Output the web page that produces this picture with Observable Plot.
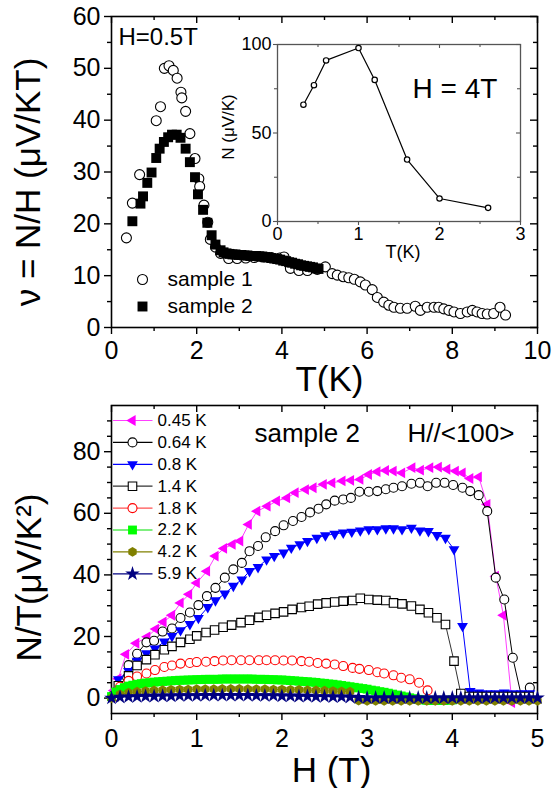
<!DOCTYPE html>
<html><head><meta charset="utf-8">
<script src="https://cdn.jsdelivr.net/npm/d3@7"></script>
<script src="https://cdn.jsdelivr.net/npm/@observablehq/plot@0.6"></script>
<style>
body{margin:0;background:#fff;}
#wrap{position:relative;width:554px;height:788px;overflow:hidden;background:#fff;}
</style></head><body><div id="wrap"></div>
<script>
// ---------------- DATA ----------------
// Top panel: nu = N/H (µV/KT) vs T(K), H = 0.5 T
const sample1 = [[0.35,17.3],[0.49,24.0],[0.66,29.5],[1.05,39.9],[1.15,42.6],[1.24,50.0],[1.35,50.5],[1.45,49.6],[1.54,48.1],[1.63,45.4],[1.65,44.3],[1.74,41.7],[1.84,37.4],[1.96,32.6],[2.05,28.7],[2.07,27.2],[2.17,23.6],[2.26,20.3],[2.32,17.0],[2.44,15.5],[2.56,14.3],[2.75,13.3],[2.95,13.3],[3.15,13.4],[3.35,13.5],[3.55,13.6],[3.75,13.5],[3.95,13.4],[4.05,13.6],[4.2,11.4],[4.4,11.0],[4.6,11.0],[4.83,11.2],[5.02,11.7],[5.18,10.4],[5.3,10.1],[5.44,9.8],[5.57,9.6],[5.7,9.3],[5.84,8.8],[5.96,8.2],[6.12,7.3],[6.24,5.8],[6.39,4.9],[6.51,4.3],[6.63,3.9],[6.78,3.7],[6.94,3.7],[7.13,4.1],[7.25,3.3],[7.41,3.9],[7.57,3.9],[7.68,3.9],[7.8,3.6],[7.92,3.3],[8.04,3.0],[8.19,2.7],[8.35,3.0],[8.47,3.3],[8.58,3.0],[8.7,2.7],[8.82,2.6],[8.97,2.7],[9.12,3.9],[9.25,2.4]];
const sample2 = [[0.49,20.5],[0.68,23.9],[0.74,25.3],[0.84,27.9],[0.94,29.9],[1.05,32.7],[1.13,34.5],[1.23,35.8],[1.33,36.7],[1.42,37.2],[1.53,37.2],[1.62,36.6],[1.74,34.5],[1.84,31.9],[1.96,29.0],[2.03,25.7],[2.15,22.7],[2.25,20.2],[2.35,17.8],[2.44,16.0],[2.56,14.9],[2.63,14.5],[2.7,14.3],[2.77,14.2],[2.84,14.1],[2.91,14.1],[2.98,14.0],[3.05,14.0],[3.12,13.9],[3.19,13.9],[3.26,13.8],[3.33,13.8],[3.4,13.8],[3.47,13.7],[3.54,13.7],[3.61,13.6],[3.68,13.5],[3.75,13.4],[3.82,13.3],[3.89,13.2],[3.96,13.1],[4.03,12.9],[4.1,12.8],[4.17,12.6],[4.24,12.5],[4.31,12.3],[4.38,12.2],[4.45,12.0],[4.52,11.9],[4.59,11.8],[4.66,11.7],[4.73,11.6],[4.8,11.4],[4.86,11.3]];
// Inset: N (µV/K) vs T(K), H = 4 T
const insetT = [0.32, 0.45, 0.6, 1.0, 1.2, 1.6, 2.0, 2.6];
const insetN = [66, 77, 91, 98, 80, 35, 13, 7.7];

// Bottom panel: N/T (µV/K^2) vs H (T), sample 2, H//<100>
const s045 = [[0.03,2.5],[0.08,6.3],[0.17,14.2],[0.29,17.8],[0.42,19.9],[0.52,22.4],[0.61,24.7],[0.71,26.9],[0.81,30.9],[0.91,33.7],[1.0,37.4],[1.12,41.2],[1.22,46.1],[1.32,48.6],[1.42,49.9],[1.51,51.0],[1.61,56.4],[1.71,60.7],[1.83,62.3],[1.94,64.0],[2.06,65.0],[2.16,66.7],[2.28,67.7],[2.37,68.3],[2.49,69.4],[2.59,69.9],[2.71,70.5],[2.81,70.7],[2.92,71.0],[3.02,72.6],[3.12,73.5],[3.22,73.9],[3.31,73.7],[3.41,73.1],[3.53,74.8],[3.63,74.0],[3.74,74.8],[3.84,75.0],[3.94,74.3],[4.04,73.7],[4.12,73.1],[4.21,71.3],[4.31,71.8],[4.41,62.9],[4.51,39.6],[4.6,26.9],[4.7,-1.5],[4.8,0.5],[4.9,0.5]];
const s064 = [[0.03,1.0],[0.1,5.0],[0.2,10.7],[0.3,14.4],[0.41,18.1],[0.5,18.6],[0.6,21.6],[0.71,22.6],[0.81,26.0],[0.92,27.8],[1.02,30.2],[1.12,33.1],[1.22,35.8],[1.33,39.1],[1.43,41.8],[1.53,43.9],[1.62,47.7],[1.72,49.4],[1.81,52.2],[1.92,54.2],[2.02,56.1],[2.13,57.5],[2.23,58.8],[2.33,60.3],[2.43,61.5],[2.52,62.9],[2.62,64.1],[2.72,64.5],[2.81,65.0],[2.91,67.0],[3.02,67.0],[3.12,67.2],[3.22,67.8],[3.31,68.3],[3.41,68.8],[3.52,69.6],[3.62,69.9],[3.71,68.8],[3.81,69.9],[3.91,69.9],[4.01,69.2],[4.12,68.3],[4.21,67.2],[4.31,65.9],[4.41,60.7],[4.51,39.1],[4.61,32.0],[4.71,13.1],[4.81,0.8],[4.91,3.4]];
const s08 = [[0.03,1.0],[0.08,6.1],[0.2,8.8],[0.3,12.1],[0.41,14.5],[0.51,16.1],[0.62,18.3],[0.71,20.1],[0.81,22.0],[0.92,24.0],[1.02,26.0],[1.13,29.5],[1.22,31.7],[1.33,33.9],[1.43,36.4],[1.53,38.5],[1.62,41.2],[1.72,42.5],[1.82,45.0],[1.91,46.1],[2.02,47.2],[2.11,48.8],[2.21,49.9],[2.3,51.0],[2.41,52.0],[2.51,52.8],[2.62,53.3],[2.72,53.7],[2.82,54.0],[2.92,54.4],[3.02,54.8],[3.12,54.8],[3.22,55.1],[3.31,55.1],[3.41,54.8],[3.52,55.3],[3.62,54.4],[3.72,54.2],[3.82,52.9],[3.92,52.0],[4.02,48.3],[4.12,23.4],[4.21,2.3],[4.31,1.8],[4.41,1.5],[4.51,1.5],[4.61,1.8],[4.71,1.5],[4.81,1.5],[4.91,1.5]];
const s14 = [[0.03,0.5],[0.08,4.0],[0.2,7.2],[0.3,10.6],[0.41,12.5],[0.51,14.1],[0.62,15.7],[0.71,16.8],[0.81,18.1],[0.92,19.1],[1.0,20.2],[1.11,21.3],[1.21,22.1],[1.31,23.0],[1.41,23.7],[1.52,24.5],[1.62,25.3],[1.73,26.2],[1.82,26.9],[1.92,27.5],[2.02,28.0],[2.12,28.8],[2.23,29.4],[2.32,29.8],[2.42,30.5],[2.52,30.9],[2.62,31.2],[2.72,31.5],[2.83,31.7],[2.92,32.4],[3.02,32.0],[3.12,31.8],[3.22,31.7],[3.31,30.9],[3.41,30.6],[3.52,29.9],[3.62,28.8],[3.72,27.7],[3.82,26.1],[3.92,23.9],[4.02,12.0],[4.1,1.5],[4.2,0.5],[4.3,0.5],[4.4,0.5],[4.5,0.5],[4.6,0.5],[4.7,0.5],[4.8,0.5],[4.9,0.5]];
const s18 = [[0.03,0.5],[0.1,3.7],[0.2,5.6],[0.3,7.0],[0.41,8.0],[0.51,9.1],[0.62,10.1],[0.71,10.6],[0.81,11.2],[0.92,11.4],[1.0,11.7],[1.11,11.8],[1.21,12.0],[1.31,12.2],[1.41,12.3],[1.52,12.3],[1.62,12.3],[1.73,12.3],[1.82,12.3],[1.92,12.3],[2.02,12.2],[2.12,12.2],[2.23,12.0],[2.32,11.8],[2.42,11.4],[2.52,11.2],[2.62,10.9],[2.72,10.4],[2.83,9.8],[2.91,9.5],[3.02,9.1],[3.12,8.4],[3.2,8.0],[3.31,7.4],[3.4,6.6],[3.5,6.1],[3.61,5.0],[3.71,2.5]];
const s22 = [[0.0,0.5],[0.05,2.0],[0.1,2.8],[0.15,3.4],[0.2,3.9],[0.25,4.2],[0.3,4.5],[0.35,4.7],[0.4,4.9],[0.45,5.0],[0.5,5.2],[0.55,5.3],[0.6,5.4],[0.65,5.5],[0.7,5.6],[0.75,5.7],[0.8,5.8],[0.85,5.8],[0.9,5.9],[0.95,5.9],[1.0,6.0],[1.05,6.0],[1.1,6.1],[1.15,6.1],[1.2,6.1],[1.25,6.1],[1.3,6.2],[1.35,6.2],[1.4,6.2],[1.45,6.2],[1.5,6.2],[1.55,6.2],[1.6,6.2],[1.65,6.2],[1.7,6.1],[1.75,6.1],[1.8,6.1],[1.85,6.0],[1.9,6.0],[1.95,5.9],[2.0,5.9],[2.05,5.8],[2.1,5.7],[2.15,5.6],[2.2,5.5],[2.25,5.4],[2.3,5.3],[2.35,5.2],[2.4,5.1],[2.45,4.9],[2.5,4.8],[2.55,4.6],[2.6,4.5],[2.65,4.3],[2.7,4.1],[2.75,3.9],[2.8,3.7],[2.85,3.5],[2.9,3.3],[2.95,3.1],[3.0,2.9],[3.05,2.6],[3.1,2.4],[3.15,2.1],[3.2,1.9],[3.25,1.6],[3.3,1.3],[3.35,1.0],[3.4,0.7],[3.45,0.4],[3.5,0.1],[3.55,-0.2],[3.6,-0.4],[3.65,-0.6],[3.7,-0.7],[3.75,-0.8],[3.8,-0.8],[3.85,-0.8],[3.9,-0.8],[3.95,-0.7],[4.0,-0.6]];
const s42 = [[0,0],[0.1,1.2],[0.2,1.8],[0.3,2.1],[0.4,2.3],[0.5,2.5],[0.6,2.6],[0.7,2.7],[0.8,2.8],[0.9,2.8],[1.0,2.9],[1.1,2.9],[1.2,2.9],[1.3,3.0],[1.4,3.0],[1.5,3.0],[1.6,2.9],[1.7,2.9],[1.8,2.9],[1.9,2.8],[2.0,2.8],[2.1,2.7],[2.2,2.7],[2.3,2.6],[2.4,2.5],[2.5,2.4],[2.6,2.3],[2.7,2.2],[2.8,2.1],[2.9,-0.8],[3.0,-0.9],[3.1,-0.9],[3.2,-0.9],[3.3,-0.9],[3.4,-0.9],[3.5,-0.9],[3.6,-0.9],[3.7,-0.9],[3.8,-0.9],[3.9,-0.9],[4.0,-0.9],[4.1,-0.9],[4.2,-0.9],[4.3,-0.9],[4.4,-0.9],[4.5,-0.9],[4.6,-0.9],[4.7,-0.9],[4.8,-0.9],[4.9,-0.9],[5.0,-0.9]];
const s59 = [[0,0],[0.1,0.3],[0.2,0.4],[0.3,0.5],[0.4,0.6],[0.5,0.6],[0.6,0.7],[0.7,0.7],[0.8,0.8],[0.9,0.8],[1.0,0.8],[1.1,0.9],[1.2,0.9],[1.3,0.9],[1.4,0.9],[1.5,0.9],[1.6,0.9],[1.7,0.8],[1.8,0.8],[1.9,0.8],[2.0,0.7],[2.1,0.7],[2.2,0.6],[2.3,0.6],[2.4,0.5],[2.5,0.5],[2.6,0.4],[2.7,0.4],[2.8,0.3],[2.9,0.2],[3.0,0.1],[3.1,0.1],[3.2,0.1],[3.3,0.1],[3.4,0.1],[3.5,0.1],[3.6,0.1],[3.7,0.1],[3.8,0.1],[3.9,0.1],[4.0,0.1],[4.1,0.1],[4.2,0.1],[4.3,0.1],[4.4,0.1],[4.5,0.1],[4.6,0.1],[4.7,0.1],[4.8,0.1],[4.9,0.1],[5.0,0.1]];
const seriesLabels = ["0.45 K","0.64 K","0.8 K","1.4 K","1.8 K","2.2 K","4.2 K","5.9 K"];

// Tick values
const topXMajor = [0,2,4,6,8,10], topXMinor = [1,3,5,7,9];
const topYMajor = [0,10,20,30,40,50,60], topYMinor = [5,15,25,35,45,55];
const insXMajor = [0,1,2,3], insXMinor = [0.5,1.5,2.5];
const insYMajor = [0,50,100], insYMinor = [25,75];
const botXMajor = [0,1,2,3,4,5], botXMinor = [0.5,1.5,2.5,3.5,4.5];
const botYMajor = [0,20,40,60,80], botYMinor = [5,10,15,25,30,35,45,50,55,65,70,75,85,90];

// ---------------- STYLE ----------------
const FONT = '"Liberation Sans", Arial, Helvetica, sans-serif';
const triLeft = {draw(c, size){ const R = Math.sqrt(size/Math.PI)*1.3; c.moveTo(-R,0); c.lineTo(R/2,-R*0.866); c.lineTo(R/2,R*0.866); c.closePath(); }};
const triDown = {draw(c, size){ const R = Math.sqrt(size/Math.PI)*1.3; c.moveTo(0,R); c.lineTo(-R*0.866,-R/2); c.lineTo(R*0.866,-R/2); c.closePath(); }};
const legLine = {draw(c){ c.moveTo(-19.5,0); c.lineTo(20,0); }};
const pairs = a => a.map(([x,y]) => ({x, y}));

const styles = [
  {data: s045, line:"#ff40ff", symbol: triLeft, r:4.8, fill:"#ff00ff", stroke:"none"},
  {data: s064, line:"#000000", symbol:"circle", r:4.5, fill:"white", stroke:"#000"},
  {data: s08,  line:"#0000ff", symbol: triDown, r:4.8, fill:"#0000ff", stroke:"none"},
  {data: s14,  line:"#333333", symbol:"square", r:4.8, fill:"white", stroke:"#000"},
  {data: s18,  line:"#ff5050", symbol:"circle", r:4.5, fill:"white", stroke:"#ff0000"},
  {data: s22,  line:"#00e000", symbol:"square", r:5, fill:"#00ff00", stroke:"none"},
  {data: s42,  line:"#808000", symbol:"hexagon", r:4.2, fill:"#808000", stroke:"none"},
  {data: s59,  line:"#000080", symbol:"star", r:4.6, fill:"#000080", stroke:"none"}
];

function frameTicks(o) {
  const {xMaj, xMin, yMaj, yMin, FW, FH, maj, min, sw, stroke, xPad, yPad} = o;
  return [
    Plot.axisX({ticks: xMaj, tickSize: maj, tickPadding: xPad, strokeWidth: sw, stroke, label: null, tickFormat: d => String(d)}),
    Plot.axisX({ticks: xMin, tickSize: min, strokeWidth: sw, stroke, label: null, tickFormat: () => ""}),
    Plot.axisY({ticks: yMaj, tickSize: maj, tickPadding: yPad, strokeWidth: sw, stroke, label: null, tickFormat: d => String(d)}),
    Plot.axisY({ticks: yMin, tickSize: min, strokeWidth: sw, stroke, label: null, tickFormat: () => ""}),
    Plot.tickX(xMaj, {x: d => d, insetBottom: FH - maj, stroke, strokeWidth: sw}),
    Plot.tickX(xMin, {x: d => d, insetBottom: FH - min, stroke, strokeWidth: sw}),
    Plot.tickY(yMaj, {y: d => d, insetLeft: FW - maj, stroke, strokeWidth: sw}),
    Plot.tickY(yMin, {y: d => d, insetLeft: FW - min, stroke, strokeWidth: sw})
  ];
}
const wrap = document.getElementById("wrap");
const baseStyle = (left, top, fs) => ({fontFamily: FONT, fontSize: fs, color: "black", background: "transparent", position: "absolute", left, top, overflow: "visible"});

// ---------------- TOP PANEL ----------------
{
  const W = 554, H = 400, mL = 111, mR = 17, mT = 16, mB = 73;
  const top = Plot.plot({
    width: W, height: H, marginLeft: mL, marginRight: mR, marginTop: mT, marginBottom: mB,
    x: {domain: [0, 10], label: null}, y: {domain: [0, 60], label: null},
    style: baseStyle("0px", "0px", "25px"),
    marks: [
      ...frameTicks({xMaj: topXMajor, xMin: topXMinor, yMaj: topYMajor, yMin: topYMinor, FW: W-mL-mR, FH: H-mT-mB, maj: 7, min: 4, sw: 1.4, stroke: "black", xPad: 7, yPad: 4}),
      Plot.frame({stroke: "black", strokeWidth: 1.6}),
      Plot.dot(pairs(sample1), {x: "x", y: "y", r: 5, stroke: "black", fill: "white", strokeWidth: 1.1}),
      Plot.dot(pairs(sample2), {x: "x", y: "y", symbol: "square", r: 5.6, fill: "black"}),
      Plot.text(["H=0.5T"], {frameAnchor: "top-left", dx: 7, dy: 11, textAnchor: "start", lineAnchor: "top", fontSize: 24}),
      Plot.dot([0], {frameAnchor: "bottom-left", dx: 31, dy: -48, r: 5, stroke: "black", fill: "white", strokeWidth: 1.1}),
      Plot.dot([0], {frameAnchor: "bottom-left", dx: 31, dy: -21, symbol: "square", r: 5.6, fill: "black"}),
      Plot.text(["sample 1"], {frameAnchor: "bottom-left", dx: 56, dy: -48, textAnchor: "start", lineAnchor: "middle", fontSize: 21}),
      Plot.text(["sample 2"], {frameAnchor: "bottom-left", dx: 56, dy: -21, textAnchor: "start", lineAnchor: "middle", fontSize: 21}),
      Plot.text(["T(K)"], {frameAnchor: "bottom", dx: 5, dy: 39, lineAnchor: "top", fontSize: 35}),
      Plot.text(["ν = N/H (μV/KT)"], {frameAnchor: "left", dx: -83, dy: 10, rotate: -90, textAnchor: "middle", lineAnchor: "middle", fontSize: 35})
    ]
  });
  wrap.appendChild(top);
}

// ---------------- INSET ----------------
{
  const W = 340, H = 250, mL = 77, mR = 20, mT = 24, mB = 49;
  const inset = Plot.plot({
    width: W, height: H, marginLeft: mL, marginRight: mR, marginTop: mT, marginBottom: mB,
    x: {domain: [0, 3], label: null}, y: {domain: [0, 100], label: null},
    style: baseStyle("200px", "20px", "18px"),
    marks: [
      ...frameTicks({xMaj: insXMajor, xMin: insXMinor, yMaj: insYMajor, yMin: insYMinor, FW: W-mL-mR, FH: H-mT-mB, maj: 4, min: 3, sw: 1.1, stroke: "#555", xPad: 2, yPad: 2}),
      Plot.frame({stroke: "#555", strokeWidth: 1.3}),
      Plot.line(insetT.map((t, i) => ({x: t, y: insetN[i]})), {x: "x", y: "y", stroke: "black", strokeWidth: 1.2}),
      Plot.dot(insetT.map((t, i) => ({x: t, y: insetN[i]})), {x: "x", y: "y", r: 2.7, stroke: "black", fill: "white", strokeWidth: 1.2}),
      Plot.text(["H = 4T"], {frameAnchor: "top-left", dx: 135, dy: 34, textAnchor: "start", lineAnchor: "top", fontSize: 28}),
      Plot.text(["T(K)"], {frameAnchor: "bottom", dx: 4, dy: 24, lineAnchor: "top", fontSize: 18}),
      Plot.text(["N (μV/K)"], {frameAnchor: "left", dx: -49, dy: -6, rotate: -90, textAnchor: "middle", lineAnchor: "middle", fontSize: 17})
    ]
  });
  wrap.appendChild(inset);
}

// ---------------- BOTTOM PANEL ----------------
{
  const W = 554, H = 388, mL = 111, mR = 17, mT = 5, mB = 75;
  const marks = [];
  styles.forEach(s => {
    const d = pairs(s.data);
    marks.push(Plot.line(d, {x: "x", y: "y", stroke: s.line, strokeWidth: 1}));
    marks.push(Plot.dot(d, {x: "x", y: "y", symbol: s.symbol, r: s.r, fill: s.fill, stroke: s.stroke, strokeWidth: 1.1}));
  });
  const legend = [];
  styles.forEach((s, i) => {
    const dy = 15 + 21.9 * i;
    legend.push(Plot.dot([0], {frameAnchor: "top-left", dx: 21, dy, symbol: legLine, stroke: s.line, strokeWidth: 1.2, fill: "none"}));
    legend.push(Plot.dot([0], {frameAnchor: "top-left", dx: 21, dy, symbol: s.symbol, r: s.r, fill: s.fill, stroke: s.stroke, strokeWidth: 1.1}));
    legend.push(Plot.text([seriesLabels[i]], {frameAnchor: "top-left", dx: 46, dy, textAnchor: "start", lineAnchor: "middle", fontSize: 17}));
  });
  const bottom = Plot.plot({
    width: W, height: H, marginLeft: mL, marginRight: mR, marginTop: mT, marginBottom: mB,
    x: {domain: [0, 5], label: null}, y: {domain: [-5, 95], label: null},
    style: baseStyle("0px", "400px", "25px"),
    marks: [
      ...frameTicks({xMaj: botXMajor, xMin: botXMinor, yMaj: botYMajor, yMin: botYMinor, FW: W-mL-mR, FH: H-mT-mB, maj: 7, min: 4, sw: 1.4, stroke: "black", xPad: 9, yPad: 4}),
      Plot.frame({stroke: "black", strokeWidth: 1.6}),
      ...marks,
      ...legend,
      Plot.text(["sample 2"], {frameAnchor: "top-left", dx: 143, dy: 18, textAnchor: "start", lineAnchor: "top", fontSize: 26}),
      Plot.text(["H//<100>"], {frameAnchor: "top-left", dx: 296, dy: 18, textAnchor: "start", lineAnchor: "top", fontSize: 26}),
      Plot.text(["H (T)"], {frameAnchor: "bottom", dx: 7, dy: 44, lineAnchor: "top", fontSize: 35}),
      Plot.text(["N/T(μV/K²)"], {frameAnchor: "left", dx: -82, dy: 18, rotate: -90, textAnchor: "middle", lineAnchor: "middle", fontSize: 35})
    ]
  });
  wrap.appendChild(bottom);
}
</script>
</body></html>
